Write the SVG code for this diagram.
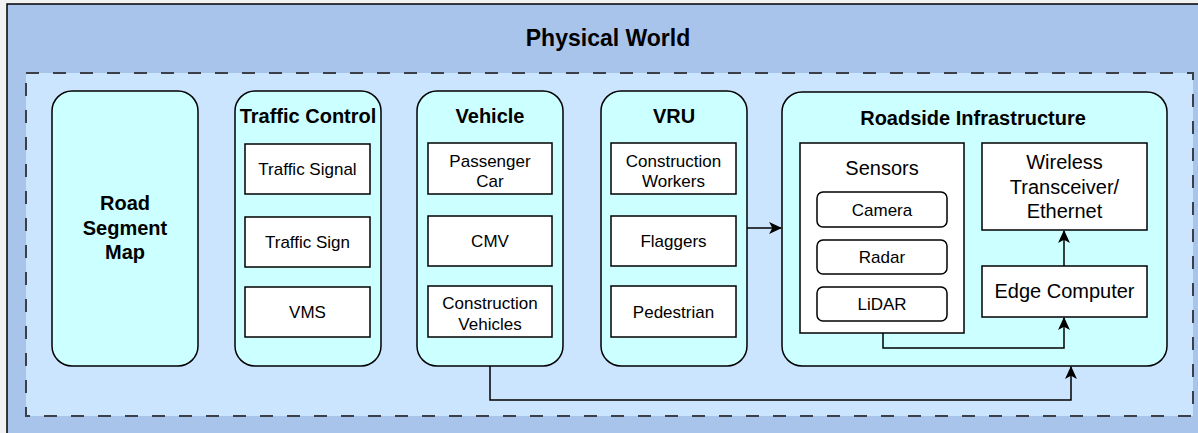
<svg xmlns="http://www.w3.org/2000/svg" width="1198" height="433" viewBox="0 0 1198 433">
<defs>
<style>
.t{font-family:"Liberation Sans",Arial,Helvetica,sans-serif;fill:#000;text-anchor:middle}
.b{font-weight:bold;font-size:20px}
.s{font-size:17px}
.m{font-size:20px}
.grp{fill:#ccffff;stroke:#000;stroke-width:1.5}
.box{fill:#fff;stroke:#000;stroke-width:1.5}
.con{fill:none;stroke:#000;stroke-width:1.5}
</style>
<marker id="arr" viewBox="0 0 12 12" refX="11" refY="6" markerWidth="13" markerHeight="13" markerUnits="userSpaceOnUse" orient="auto">
<path d="M0,0.5 L12,6 L0,11.5 L3,6 Z" fill="#000"/>
</marker>
</defs>
<rect x="0" y="0" width="1198" height="433" fill="#f2f2f2"/>
<g id="physical-world">
<rect x="7" y="4" width="1200" height="440" fill="#a9c4eb" stroke="#000" stroke-width="1.5"/>
<text class="t" x="608" y="46" font-size="23" font-weight="bold">Physical World</text>
</g>
<g id="inner-area">
<rect x="26" y="73" width="1167" height="343" fill="#cce5ff" stroke="#3b4048" stroke-width="2" stroke-dasharray="13 14"/>
</g>
<g id="road-segment-map">
<rect class="grp" x="52" y="91" width="146" height="275" rx="20"/>
<text class="t b" x="125" y="210">Road</text>
<text class="t b" x="125" y="235">Segment</text>
<text class="t b" x="125" y="259">Map</text>
</g>
<g id="traffic-control">
<rect class="grp" x="235" y="91" width="146" height="275" rx="20"/>
<text class="t b" x="308" y="123">Traffic Control</text>
<rect class="box" x="245" y="144" width="125" height="50"/>
<text class="t s" x="307.5" y="175">Traffic Signal</text>
<rect class="box" x="245" y="217" width="125" height="50"/>
<text class="t s" x="307.5" y="248">Traffic Sign</text>
<rect class="box" x="245" y="287" width="125" height="50"/>
<text class="t s" x="307.5" y="318">VMS</text>
</g>
<g id="vehicle">
<rect class="grp" x="417" y="91" width="146" height="275" rx="20"/>
<text class="t b" x="490" y="123">Vehicle</text>
<rect class="box" x="428" y="143" width="124" height="51"/>
<text class="t s" x="490" y="167">Passenger</text>
<text class="t s" x="490" y="187">Car</text>
<rect class="box" x="428" y="216" width="124" height="50"/>
<text class="t s" x="490" y="247">CMV</text>
<rect class="box" x="428" y="286" width="124" height="51"/>
<text class="t s" x="490" y="309">Construction</text>
<text class="t s" x="490" y="330">Vehicles</text>
</g>
<g id="vru">
<rect class="grp" x="601" y="91" width="146" height="275" rx="20"/>
<text class="t b" x="674" y="123">VRU</text>
<rect class="box" x="611" y="143" width="125" height="51"/>
<text class="t s" x="673.5" y="167">Construction</text>
<text class="t s" x="673.5" y="187">Workers</text>
<rect class="box" x="611" y="216" width="125" height="50"/>
<text class="t s" x="673.5" y="247">Flaggers</text>
<rect class="box" x="611" y="286" width="125" height="51"/>
<text class="t s" x="673.5" y="318">Pedestrian</text>
</g>
<g id="roadside-infrastructure">
<rect class="grp" x="782" y="92" width="385" height="274" rx="20"/>
<text class="t b" x="973" y="125">Roadside Infrastructure</text>
</g>
<g id="sensors">
<rect class="box" x="800" y="143" width="164" height="190"/>
<text class="t m" x="882" y="175">Sensors</text>
</g>
<g id="camera">
<rect class="box" x="817" y="192" width="130" height="35" rx="6"/>
<text class="t s" x="882" y="215.5">Camera</text>
</g>
<g id="radar">
<rect class="box" x="817" y="240" width="130" height="34" rx="6"/>
<text class="t s" x="882" y="263">Radar</text>
</g>
<g id="lidar">
<rect class="box" x="817" y="287" width="130" height="34" rx="6"/>
<text class="t s" x="882" y="310">LiDAR</text>
</g>
<g id="wireless">
<rect class="box" x="982" y="143" width="165" height="87"/>
<text class="t m" x="1064.5" y="169">Wireless</text>
<text class="t m" x="1064.5" y="193.5">Transceiver/</text>
<text class="t m" x="1064.5" y="218">Ethernet</text>
</g>
<g id="edge-computer">
<rect class="box" x="982" y="266" width="165" height="51"/>
<text class="t m" x="1064.5" y="298">Edge Computer</text>
</g>
<g id="connectors">
<path class="con" d="M747,228 L781,228" marker-end="url(#arr)"/>
<path class="con" d="M1064,266 L1064,231" marker-end="url(#arr)"/>
<path class="con" d="M883,333 L883,348 L1064,348 L1064,318" marker-end="url(#arr)"/>
<path class="con" d="M490,366 L490,400 L1071,400 L1071,367" marker-end="url(#arr)"/>
</g>
</svg>
